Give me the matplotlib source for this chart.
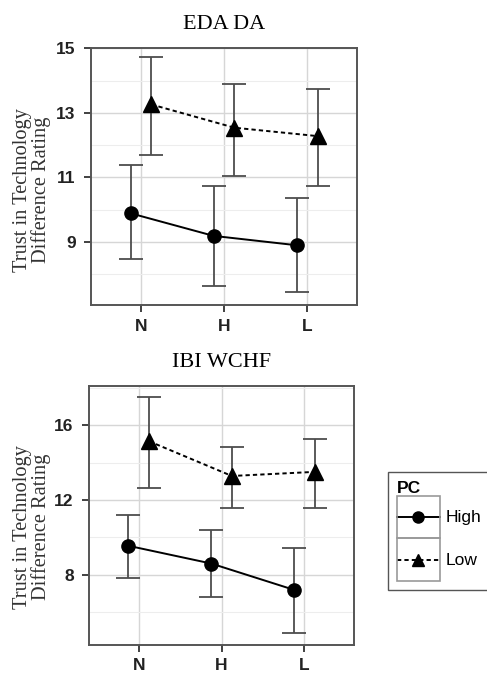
import matplotlib
matplotlib.use("Agg")
import matplotlib.pyplot as plt
from matplotlib.lines import Line2D
from matplotlib.patches import Rectangle
import numpy as np

conditions = ["N", "H", "L"]
groups = ["High", "Low"]

# EDA DA panel
eda_high = [9.89, 9.19, 8.90]
eda_high_lo = [8.46, 7.63, 7.44]
eda_high_hi = [11.39, 10.73, 10.37]
eda_low = [13.26, 12.54, 12.28]
eda_low_lo = [11.69, 11.03, 10.73]
eda_low_hi = [14.72, 13.90, 13.74]

# IBI WCHF panel
ibi_high = [9.54, 8.59, 7.18]
ibi_high_lo = [7.82, 6.77, 4.84]
ibi_high_hi = [11.18, 10.36, 9.43]
ibi_low = [15.14, 13.28, 13.50]
ibi_low_lo = [12.61, 11.59, 11.59]
ibi_low_hi = [17.52, 14.84, 15.27]

SERIF = "Liberation Serif"
SANS = "Liberation Sans"
dodge = 0.125
DASH = (0, (2.2, 1.6))


def draw_panel(ax, title, high, high_lo, high_hi, low, low_lo, low_hi, ylim, major, minor):
    x = np.arange(1, len(conditions) + 1)
    ax.set_xlim(0.4, 3.6)
    ax.set_ylim(*ylim)
    ax.set_yticks(major)
    ax.set_yticks(minor, minor=True)
    ax.set_xticks(x)
    ax.set_xticklabels(conditions)
    ax.grid(True, which="major", color="#d6d6d6", lw=1.0, zorder=0)
    ax.grid(True, which="minor", axis="y", color="#ededed", lw=0.8, zorder=0)
    ax.tick_params(which="minor", length=0)
    ax.tick_params(which="major", length=5, width=1.3, color="#333333", direction="out", pad=6)
    ax.tick_params(axis="x", pad=5)
    for lab in ax.get_xticklabels() + ax.get_yticklabels():
        lab.set_fontfamily(SANS)
        lab.set_fontweight("bold")
        lab.set_fontsize(12.5)
        lab.set_color("#222222")
    for s in ax.spines.values():
        s.set_color("#555555")
        s.set_linewidth(1.4)

    for vals, lo, hi, shift, ls, mk, ms in [
        (high, high_lo, high_hi, -dodge, "-", "o", 9.5),
        (low, low_lo, low_hi, dodge, DASH, "^", 11),
    ]:
        xs = x + shift
        vals = np.array(vals)
        err = [vals - np.array(lo), np.array(hi) - vals]
        ax.errorbar(xs, vals, yerr=err, fmt="none", ecolor="#4d4d4d", elinewidth=1.3,
                    capsize=8.6, capthick=1.3, zorder=2)
        ax.plot(xs, vals, color="black", ls=ls, lw=1.4, marker=mk, ms=ms, zorder=3)

    ax.set_title(title, fontfamily=SERIF, fontsize=16, pad=14)


fig = plt.figure(figsize=(4.87, 6.77), dpi=100)
ax1 = fig.add_axes([0.1869, 0.5495, 0.5462, 0.3792])
ax2 = fig.add_axes([0.1828, 0.048, 0.5441, 0.3818])

draw_panel(ax1, "EDA DA", eda_high, eda_high_lo, eda_high_hi, eda_low, eda_low_lo, eda_low_hi,
           (7.05, 15.0), [9, 11, 13, 15], [8, 10, 12, 14])
draw_panel(ax2, "IBI WCHF", ibi_high, ibi_high_lo, ibi_high_hi, ibi_low, ibi_low_lo, ibi_low_hi,
           (4.25, 18.1), [8, 12, 16], [6, 10, 14, 18])

for ax, yc in [(ax1, 1 - 190 / 677), (ax2, 1 - 527 / 677)]:
    fig.text(32 / 487, yc, "Trust in Technology\nDifference Rating", rotation=90,
             ha="center", va="center", fontfamily=SERIF, fontsize=14.7, linespacing=1.0,
             color="#333333")

handles = [
    Line2D([], [], color="black", ls="-", lw=1.4, marker="o", ms=8),
    Line2D([], [], color="black", ls=DASH, lw=1.4, marker="^", ms=9),
]
leg_fs = 12.5
hh = 3.4
leg = fig.legend(handles, groups, title="PC", loc="upper left",
                 bbox_to_anchor=(388 / 487, 1 - 472 / 677), borderaxespad=0, frameon=True,
                 fancybox=False, handlelength=2.5, handleheight=hh, borderpad=0.5,
                 labelspacing=0.0, handletextpad=0.3, framealpha=1.0,
                 prop={"family": SANS, "size": leg_fs})
leg.get_frame().set_edgecolor("#555555")
leg.get_frame().set_linewidth(1.0)
leg.get_title().set_fontfamily(SANS)
leg.get_title().set_fontweight("bold")
leg.get_title().set_fontsize(leg_fs)
leg._legend_box.align = "left"

# centre the key lines in their boxes
shift = 0.35 * leg_fs * (hh - 0.7) / 2
for h in leg.legend_handles:
    h.set_ydata(np.asarray(h.get_ydata()) - shift)

# grey boxes round each legend key, as ggplot draws them
fig.canvas.draw()
renderer = fig.canvas.get_renderer()
inv = fig.transFigure.inverted()
for column in leg._legend_handle_box.get_children():
    for row in column.get_children():
        key = row.get_children()[0]
        bb = key.get_window_extent(renderer)
        (fx0, fy0), (fx1, fy1) = inv.transform([(bb.x0, bb.y0), (bb.x1, bb.y1)])
        fig.patches.append(Rectangle((fx0, fy0), fx1 - fx0, fy1 - fy0, transform=fig.transFigure,
                                     fill=False, edgecolor="#999999", lw=1.2, zorder=6))

fig.savefig("out.png", dpi=100)
